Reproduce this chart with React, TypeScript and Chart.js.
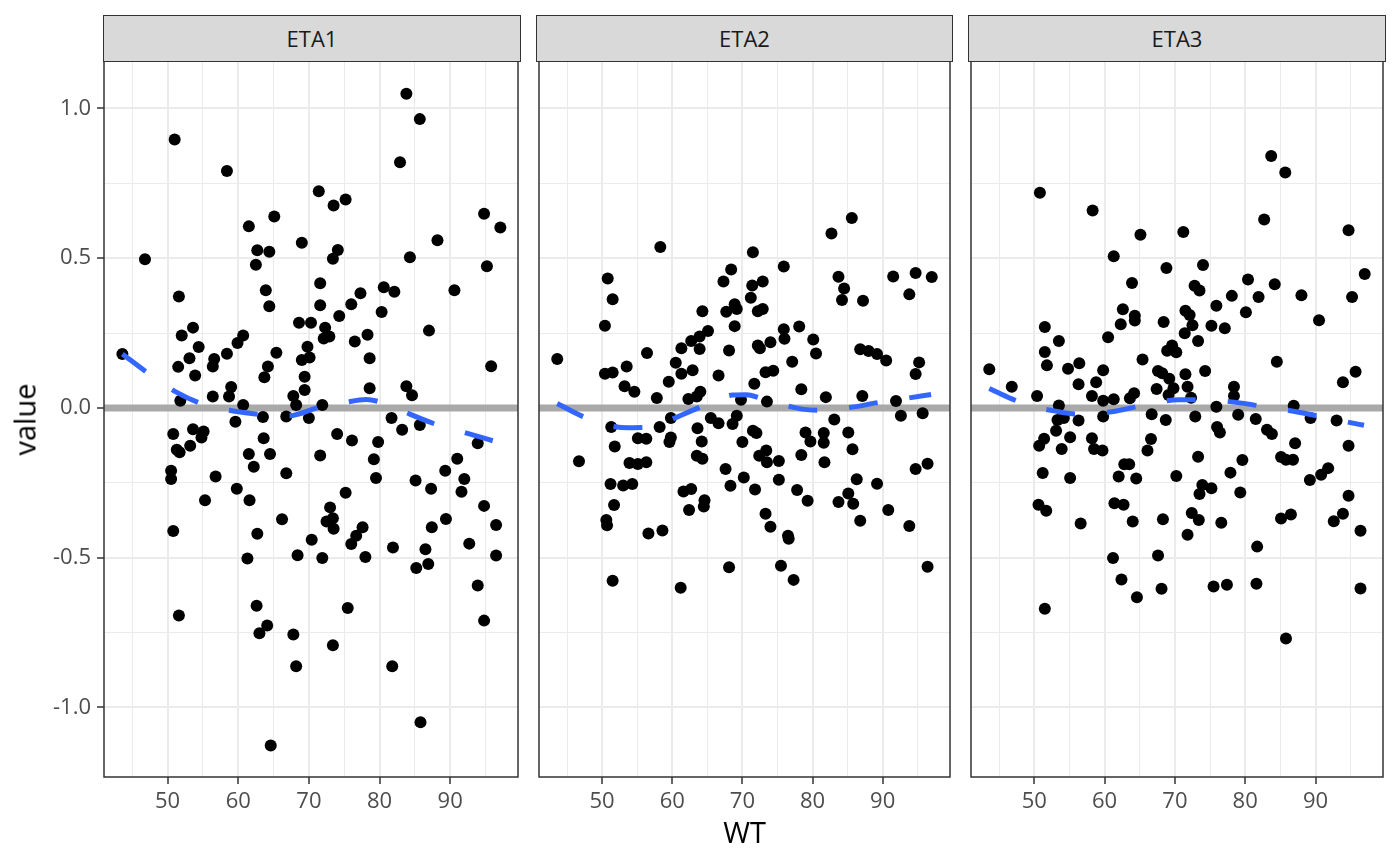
import { useEffect, useRef } from 'react';
import { Chart, registerables } from 'chart.js';

Chart.register(...registerables);

// shared facet scales
const X_MIN = 41.0;
const X_MAX = 99.6;
const Y_MIN = -1.232;
const Y_MAX = 1.158;
const xTicks = [45, 50, 55, 60, 65, 70, 75, 80, 85, 90, 95];
const yTicks = [-1, -0.75, -0.5, -0.25, 0, 0.25, 0.5, 0.75, 1];
const panelNames = ['ETA1', 'ETA2', 'ETA3'];

// [WT, value]
const eta1Points: [number, number][] = [
  [83.8, 1.049], [85.7, 0.964], [51.0, 0.896], [82.9, 0.82], [58.4, 0.791], [71.4, 0.723],
  [73.5, 0.676], [75.2, 0.696], [65.1, 0.639], [61.5, 0.606], [94.8, 0.648], [97.1, 0.602],
  [88.2, 0.56], [69.0, 0.551], [62.7, 0.526], [64.4, 0.521], [74.1, 0.527], [73.4, 0.498],
  [46.8, 0.496], [84.3, 0.503], [62.5, 0.478], [95.2, 0.473], [71.6, 0.416], [63.9, 0.393],
  [80.6, 0.403], [82.1, 0.388], [90.6, 0.393], [77.3, 0.383], [51.6, 0.372], [64.4, 0.339],
  [71.6, 0.343], [76.0, 0.346], [80.3, 0.32], [74.3, 0.307], [68.6, 0.284], [70.3, 0.284],
  [72.3, 0.268], [72.1, 0.232], [72.9, 0.238], [53.6, 0.268], [52.0, 0.242], [60.7, 0.242],
  [59.9, 0.217], [78.3, 0.244], [76.5, 0.222], [87.0, 0.258], [54.4, 0.203], [58.4, 0.181],
  [65.4, 0.184], [69.8, 0.204], [53.1, 0.166], [56.6, 0.163], [56.4, 0.138], [51.5, 0.137],
  [69.0, 0.16], [70.1, 0.168], [64.2, 0.138], [63.7, 0.102], [78.6, 0.166], [95.8, 0.139],
  [53.9, 0.108], [69.4, 0.104], [69.4, 0.06], [78.6, 0.066], [59.0, 0.07], [58.7, 0.038],
  [56.4, 0.038], [83.8, 0.072], [84.6, 0.042], [67.8, 0.04], [43.6, 0.18], [51.8, 0.024],
  [71.9, 0.01], [60.7, 0.01], [68.2, 0.01], [66.8, -0.029], [70.0, -0.034], [59.6, -0.046],
  [63.5, -0.03], [81.7, -0.034], [85.7, -0.057], [83.2, -0.073], [50.8, -0.087], [53.6, -0.071],
  [55.1, -0.079], [54.8, -0.099], [53.2, -0.126], [51.3, -0.14], [51.7, -0.148], [63.6, -0.101],
  [74.0, -0.087], [76.1, -0.109], [79.8, -0.114], [93.9, -0.118], [61.5, -0.154], [64.5, -0.154],
  [71.6, -0.159], [79.2, -0.171], [91.0, -0.17], [62.2, -0.196], [50.5, -0.21], [50.5, -0.237],
  [56.8, -0.229], [66.8, -0.218], [79.5, -0.234], [85.1, -0.242], [89.3, -0.21], [92.0, -0.237],
  [87.3, -0.27], [59.8, -0.27], [91.6, -0.28], [55.3, -0.308], [61.6, -0.308], [75.2, -0.283],
  [94.8, -0.327], [73.0, -0.332], [73.4, -0.368], [72.5, -0.379], [73.5, -0.403], [66.2, -0.372],
  [77.6, -0.398], [76.7, -0.427], [76.0, -0.454], [89.4, -0.371], [87.4, -0.398], [96.5, -0.391],
  [50.8, -0.411], [62.7, -0.42], [70.4, -0.44], [81.9, -0.466], [86.5, -0.472], [92.7, -0.453],
  [61.3, -0.503], [68.4, -0.492], [71.9, -0.501], [78.0, -0.498], [85.2, -0.534], [86.9, -0.521],
  [96.5, -0.493], [93.9, -0.593], [51.6, -0.693], [62.6, -0.66], [75.5, -0.668], [94.8, -0.71],
  [64.1, -0.726], [63.0, -0.752], [67.8, -0.756], [73.4, -0.792], [68.2, -0.862], [81.8, -0.862],
  [85.8, -1.049], [64.6, -1.127],
];

const eta2Points: [number, number][] = [
  [85.6, 0.634], [82.7, 0.582], [58.3, 0.537], [71.5, 0.52], [75.9, 0.472], [68.4, 0.462],
  [50.8, 0.432], [67.3, 0.422], [71.4, 0.409], [72.9, 0.422], [91.5, 0.439], [94.7, 0.45],
  [97.0, 0.437], [83.7, 0.438], [84.5, 0.399], [84.2, 0.36], [87.2, 0.358], [93.8, 0.379],
  [51.5, 0.363], [71.2, 0.368], [68.9, 0.346], [67.7, 0.321], [69.2, 0.33], [72.2, 0.323],
  [72.9, 0.33], [64.3, 0.323], [50.4, 0.274], [68.9, 0.273], [75.9, 0.263], [78.1, 0.272],
  [76.0, 0.231], [65.1, 0.257], [63.9, 0.238], [62.7, 0.223], [61.3, 0.199], [63.9, 0.197],
  [68.1, 0.192], [72.2, 0.208], [72.5, 0.199], [74.0, 0.219], [80.1, 0.228], [80.5, 0.182],
  [56.4, 0.183], [43.6, 0.163], [86.8, 0.196], [88.0, 0.19], [89.2, 0.18], [90.5, 0.158],
  [95.2, 0.152], [94.7, 0.113], [77.1, 0.154], [60.5, 0.151], [53.5, 0.138], [50.4, 0.114],
  [51.5, 0.118], [61.3, 0.114], [62.9, 0.126], [66.6, 0.108], [73.3, 0.119], [74.4, 0.124],
  [59.5, 0.087], [53.2, 0.072], [54.6, 0.054], [71.7, 0.081], [78.4, 0.062], [64.0, 0.054],
  [63.5, 0.038], [62.3, 0.03], [57.8, 0.033], [81.9, 0.036], [87.1, 0.04], [91.9, 0.023],
  [69.8, 0.027], [73.5, 0.021], [92.6, -0.026], [95.7, -0.018], [69.2, -0.026], [65.5, -0.034],
  [66.6, -0.051], [68.6, -0.054], [59.8, -0.034], [51.3, -0.064], [58.2, -0.064], [63.6, -0.068],
  [83.1, -0.039], [79.0, -0.082], [79.7, -0.112], [81.6, -0.084], [81.6, -0.116], [85.1, -0.082],
  [85.7, -0.138], [71.5, -0.076], [72.0, -0.084], [55.1, -0.101], [56.3, -0.103], [59.8, -0.099],
  [59.6, -0.114], [64.2, -0.112], [70.0, -0.114], [51.8, -0.129], [73.4, -0.142], [72.4, -0.16],
  [73.5, -0.181], [75.2, -0.177], [78.4, -0.157], [81.7, -0.181], [63.5, -0.16], [64.3, -0.17],
  [46.7, -0.178], [53.9, -0.184], [55.1, -0.187], [56.3, -0.181], [96.4, -0.186], [94.7, -0.204],
  [67.6, -0.204], [70.2, -0.232], [75.2, -0.24], [86.3, -0.238], [89.2, -0.253], [51.2, -0.254],
  [53.0, -0.259], [54.3, -0.254], [68.3, -0.26], [71.8, -0.272], [77.8, -0.274], [61.6, -0.279],
  [62.7, -0.271], [85.1, -0.286], [79.3, -0.31], [83.7, -0.314], [85.8, -0.32], [64.6, -0.308],
  [64.5, -0.329], [51.7, -0.324], [62.4, -0.341], [90.8, -0.341], [50.6, -0.374], [50.7, -0.392],
  [73.3, -0.353], [86.8, -0.377], [93.8, -0.394], [74.0, -0.397], [56.6, -0.419], [58.6, -0.409],
  [76.5, -0.427], [76.6, -0.437], [75.5, -0.527], [68.1, -0.532], [96.4, -0.53], [77.3, -0.574],
  [51.5, -0.577], [61.2, -0.6],
];

const eta3Points: [number, number][] = [
  [83.7, 0.841], [85.7, 0.786], [50.8, 0.718], [58.3, 0.659], [82.7, 0.629], [94.7, 0.593],
  [65.1, 0.578], [71.2, 0.587], [61.3, 0.506], [68.8, 0.467], [74.0, 0.477], [97.0, 0.447],
  [63.9, 0.417], [72.8, 0.408], [73.5, 0.392], [80.4, 0.429], [84.2, 0.413], [81.9, 0.37],
  [78.1, 0.374], [88.0, 0.376], [95.2, 0.37], [75.9, 0.341], [80.1, 0.319], [62.6, 0.329],
  [64.3, 0.308], [64.3, 0.292], [71.5, 0.324], [72.1, 0.31], [62.3, 0.279], [68.4, 0.287],
  [72.5, 0.276], [75.2, 0.274], [77.1, 0.266], [71.4, 0.249], [90.5, 0.293], [51.5, 0.27],
  [60.5, 0.236], [53.5, 0.223], [73.3, 0.223], [69.6, 0.208], [68.9, 0.191], [70.2, 0.186],
  [51.5, 0.187], [51.8, 0.142], [65.4, 0.162], [84.5, 0.154], [43.6, 0.129], [54.8, 0.131],
  [56.4, 0.149], [59.8, 0.126], [67.6, 0.123], [68.2, 0.116], [71.5, 0.112], [74.3, 0.123],
  [69.2, 0.097], [95.7, 0.121], [93.9, 0.086], [46.8, 0.071], [56.3, 0.079], [58.8, 0.086],
  [69.8, 0.066], [71.8, 0.071], [67.4, 0.063], [78.4, 0.071], [50.4, 0.04], [58.2, 0.04],
  [64.2, 0.049], [63.6, 0.032], [61.3, 0.029], [59.8, 0.024], [69.1, 0.043], [72.3, 0.034],
  [78.4, 0.04], [86.9, 0.007], [75.9, 0.004], [53.5, 0.008], [56.3, -0.042], [53.3, -0.04],
  [54.2, -0.034], [53.1, -0.076], [59.8, -0.029], [66.7, -0.021], [68.7, -0.04], [72.9, -0.029],
  [79.0, -0.023], [81.5, -0.037], [89.3, -0.034], [93.0, -0.042], [76.0, -0.064], [76.4, -0.082],
  [83.1, -0.073], [83.8, -0.087], [51.4, -0.103], [50.7, -0.126], [55.1, -0.098], [58.2, -0.101],
  [58.5, -0.137], [59.7, -0.142], [53.9, -0.137], [66.6, -0.104], [66.1, -0.142], [87.1, -0.118],
  [94.7, -0.126], [73.3, -0.163], [79.6, -0.174], [85.1, -0.164], [85.8, -0.173], [86.8, -0.173],
  [62.8, -0.188], [63.5, -0.188], [51.2, -0.217], [55.1, -0.234], [62.0, -0.229], [64.5, -0.236],
  [70.2, -0.227], [77.9, -0.216], [91.8, -0.201], [90.8, -0.223], [89.2, -0.241], [73.9, -0.257],
  [75.2, -0.268], [73.5, -0.287], [79.3, -0.282], [94.7, -0.293], [50.6, -0.323], [51.7, -0.343],
  [61.4, -0.318], [62.7, -0.323], [56.6, -0.386], [64.0, -0.379], [68.3, -0.372], [72.4, -0.351],
  [73.4, -0.374], [76.6, -0.383], [85.1, -0.369], [86.5, -0.356], [92.6, -0.378], [93.9, -0.353],
  [96.4, -0.41], [71.8, -0.423], [81.7, -0.463], [61.2, -0.501], [67.6, -0.493], [62.4, -0.573],
  [68.1, -0.604], [75.5, -0.596], [77.4, -0.59], [81.6, -0.587], [96.4, -0.603], [64.6, -0.632],
  [51.5, -0.67], [85.8, -0.77],
];

// loess fits
const eta1Smooth: [number, number][] = [
  [43.6, 0.18], [47.3, 0.115], [51.3, 0.052], [55.3, 0.01], [59.3, -0.01], [63.3, -0.022],
  [67.2, -0.026], [71.2, 0.0], [75.1, 0.018], [78.1, 0.028], [81.1, 0.012], [84.0, -0.018],
  [88.0, -0.055], [92.0, -0.082], [97.1, -0.117],
];
const eta2Smooth: [number, number][] = [
  [43.6, 0.015], [46.9, -0.025], [50.8, -0.058], [53.8, -0.066], [56.8, -0.064], [59.7, -0.04],
  [62.7, -0.01], [65.7, 0.02], [68.6, 0.043], [70.6, 0.044], [72.6, 0.032], [75.6, 0.012],
  [78.5, -0.004], [81.5, -0.008], [85.5, 0.002], [89.4, 0.018], [93.4, 0.032], [96.9, 0.045],
];
const eta3Smooth: [number, number][] = [
  [43.6, 0.065], [46.8, 0.03], [49.8, 0.005], [52.8, -0.01], [55.8, -0.02], [58.7, -0.018],
  [61.7, -0.01], [64.7, 0.005], [67.6, 0.02], [70.6, 0.027], [73.6, 0.027], [76.5, 0.024],
  [79.5, 0.016], [82.5, 0.005], [85.4, -0.005], [88.4, -0.018], [91.4, -0.032], [94.3, -0.046],
  [96.9, -0.058],
];

const panels = [
  { name: panelNames[0], points: eta1Points, smooth: eta1Smooth, left: 0, width: 524, showY: true },
  { name: panelNames[1], points: eta2Points, smooth: eta2Smooth, left: 533, width: 423, showY: false },
  { name: panelNames[2], points: eta3Points, smooth: eta3Smooth, left: 965, width: 424, showY: false },
];

const FONT = "'Open Sans', 'Noto Sans', sans-serif";
const CANVAS_TOP = 55;
const CANVAS_H = 810;

const isMajorX = (v: number) => v % 10 === 0;
const isMajorY = (v: number) => Math.abs(v * 2 - Math.round(v * 2)) < 1e-9;

const panelBorder = {
  id: 'panelBorder',
  afterDatasetsDraw(chart: Chart) {
    const { ctx, chartArea: a } = chart;
    ctx.save();
    ctx.strokeStyle = '#333333';
    ctx.lineWidth = 1.5;
    ctx.strokeRect(a.left, a.top, a.right - a.left, a.bottom - a.top);
    ctx.restore();
  },
};

function Panel({ points, smooth, width, showY }: { points: [number, number][]; smooth: [number, number][]; width: number; showY: boolean }) {
  const canvasRef = useRef<HTMLCanvasElement>(null);

  useEffect(() => {
    if (!canvasRef.current) return;
    const chart = new Chart(canvasRef.current, {
      type: 'scatter',
      data: {
        datasets: [
          {
            data: smooth.map(([x, y]) => ({ x, y })),
            showLine: true,
            borderColor: '#3366FF',
            borderWidth: 5,
            borderDash: [29, 32],
            cubicInterpolationMode: 'monotone',
            pointRadius: 0,
            pointHoverRadius: 0,
            order: 0,
          },
          {
            data: points.map(([x, y]) => ({ x, y })),
            pointRadius: 6,
            pointBackgroundColor: '#000000',
            pointBorderWidth: 0,
            order: 1,
          },
          {
            data: [{ x: X_MIN, y: 0 }, { x: X_MAX, y: 0 }],
            showLine: true,
            borderColor: '#A9A9A9',
            borderWidth: 7,
            pointRadius: 0,
            pointHoverRadius: 0,
            order: 2,
          },
        ],
      },
      options: {
        responsive: false,
        animation: false,
        layout: { padding: { top: 6, right: 4, bottom: 0, left: showY ? 0 : 4 } },
        plugins: { legend: { display: false }, tooltip: { enabled: false } },
        scales: {
          x: {
            type: 'linear',
            min: X_MIN,
            max: X_MAX,
            afterBuildTicks: (s: any) => { s.ticks = xTicks.map((v) => ({ value: v })); },
            afterFit: (s: any) => { s.height = 88; s.paddingLeft = 0; s.paddingRight = 0; },
            border: { display: false },
            grid: {
              color: '#EBEBEB',
              lineWidth: (c: any) => (isMajorX(c.tick.value) ? 2 : 1),
              tickColor: (c: any) => (isMajorX(c.tick.value) ? '#333333' : 'rgba(0,0,0,0)'),
              tickLength: 7,
              tickWidth: 1.5,
            },
            ticks: {
              autoSkip: false,
              maxRotation: 0,
              padding: 5,
              color: '#4D4D4D',
              font: { family: FONT, size: 22 },
              callback: (v: any) => (isMajorX(Number(v)) ? String(v) : ''),
            },
          },
          y: {
            type: 'linear',
            min: Y_MIN,
            max: Y_MAX,
            afterBuildTicks: (s: any) => { s.ticks = yTicks.map((v) => ({ value: v })); },
            afterFit: (s: any) => { s.width = showY ? 104 : 0; s.paddingTop = 0; s.paddingBottom = 0; },
            border: { display: false },
            grid: {
              color: '#EBEBEB',
              lineWidth: (c: any) => (isMajorY(c.tick.value) ? 2 : 1),
              tickColor: (c: any) => (isMajorY(c.tick.value) ? '#333333' : 'rgba(0,0,0,0)'),
              drawTicks: showY,
              tickLength: 7,
              tickWidth: 1.5,
            },
            ticks: {
              display: showY,
              autoSkip: false,
              padding: 6,
              color: '#4D4D4D',
              font: { family: FONT, size: 22 },
              callback: (v: any) => (isMajorY(Number(v)) ? Number(v).toFixed(1) : ''),
            },
          },
        },
      },
      plugins: [panelBorder],
    });
    return () => chart.destroy();
  }, [points, smooth, showY]);

  return <canvas ref={canvasRef} width={width} height={CANVAS_H} style={{ width, height: CANVAS_H, display: 'block' }} />;
}

export default function App() {
  return (
    <div style={{ position: 'absolute', left: 0, top: 0, width: 1400, height: 865, background: '#fff', overflow: 'hidden', fontFamily: FONT }}>
      {panels.map((p) => {
        const plotLeft = p.left + (p.showY ? 104 : 4);
        const plotWidth = p.width - (p.showY ? 104 : 4) - 4;
        return (
          <div key={p.name}>
            <div style={{ position: 'absolute', left: p.left, top: CANVAS_TOP }}>
              <Panel points={p.points} smooth={p.smooth} width={p.width} showY={p.showY} />
            </div>
            <div
              style={{
                position: 'absolute', left: plotLeft - 0.75, top: 15, width: plotWidth + 1.5, height: 46.75,
                boxSizing: 'border-box', background: '#D9D9D9', border: '1.5px solid #333333',
                display: 'flex', alignItems: 'center', justifyContent: 'center',
                fontSize: 22, color: '#1A1A1A',
              }}
            >
              {p.name}
            </div>
          </div>
        );
      })}
      <div style={{ position: 'absolute', left: 104, top: 817, width: 1281, height: 29, lineHeight: '29px', textAlign: 'center', fontSize: 29, color: '#000' }}>
        WT
      </div>
      <div style={{ position: 'absolute', left: -76, top: 404.5, width: 200, height: 29, lineHeight: '29px', textAlign: 'center', fontSize: 29, color: '#000', transform: 'rotate(-90deg)' }}>
        value
      </div>
    </div>
  );
}
